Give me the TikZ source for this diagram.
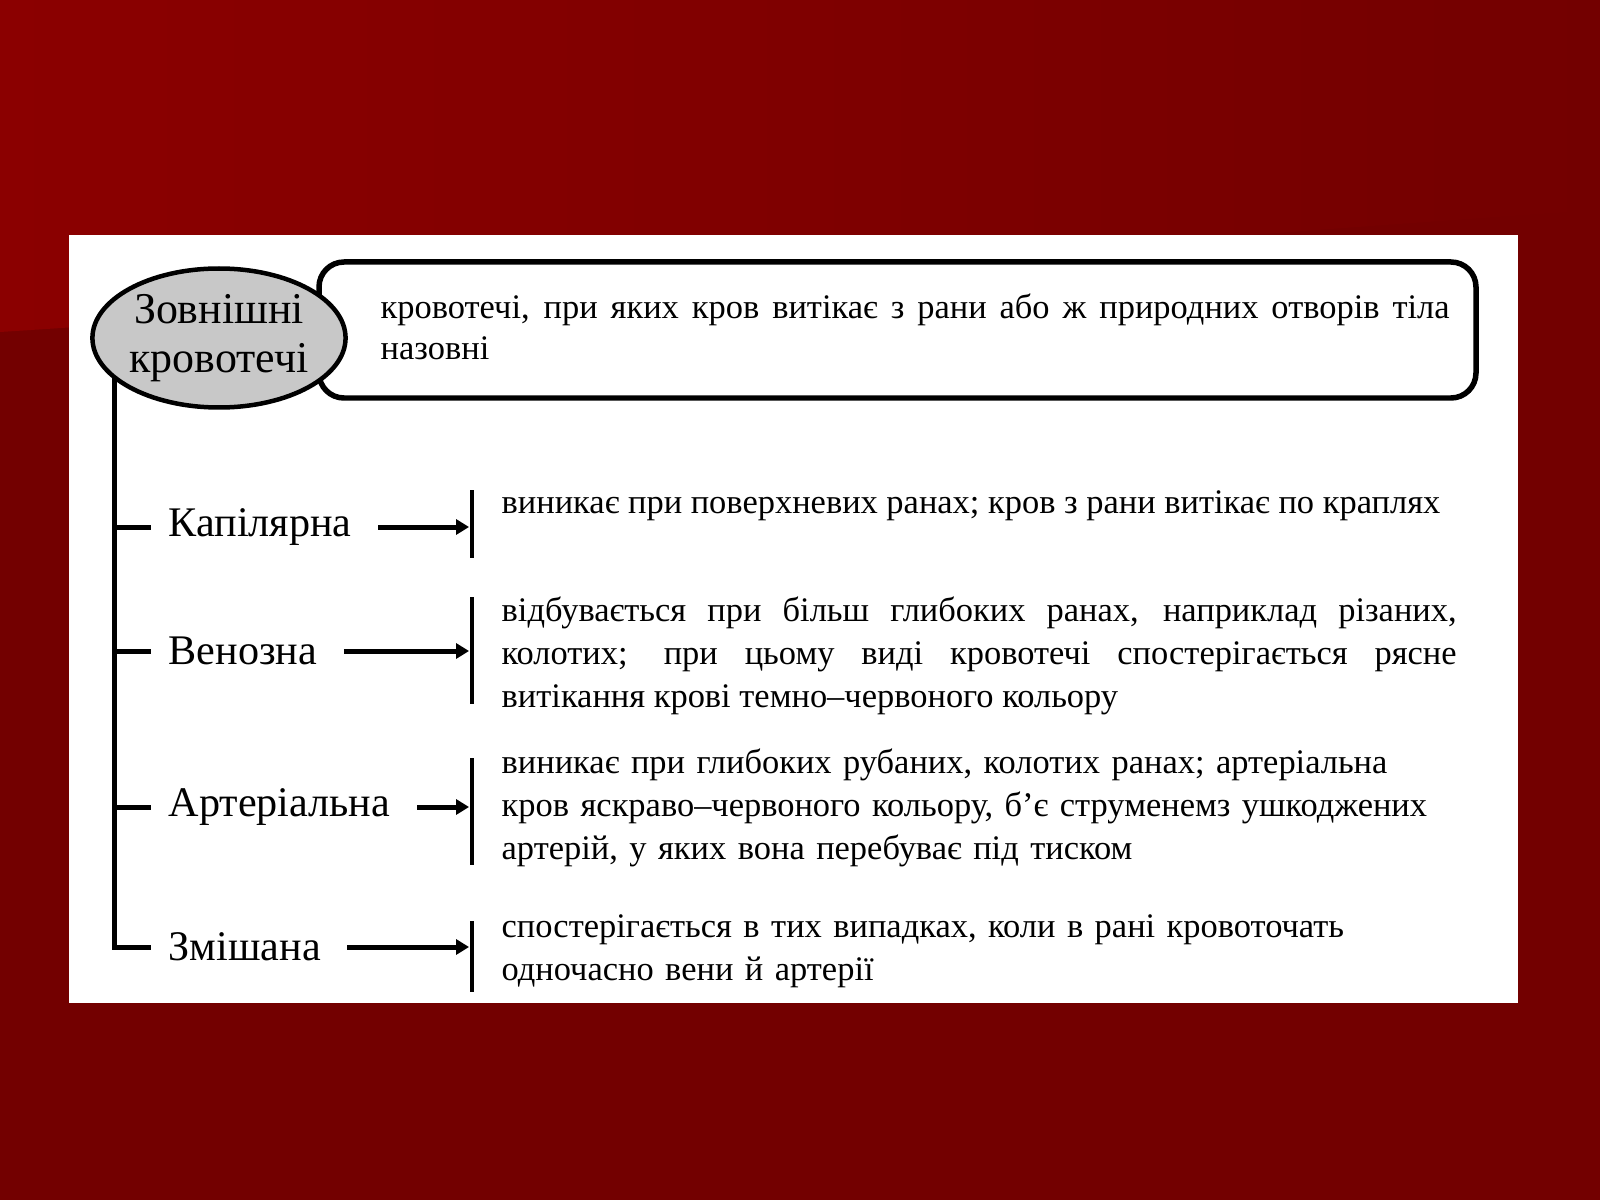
\documentclass[tikz,border=0pt]{standalone}
\usepackage{fontspec}
\setmainfont{Liberation Serif}
\usetikzlibrary{arrows.meta}
\usetikzlibrary{shapes.geometric}
\definecolor{bgdark}{RGB}{115,0,0}
\definecolor{bglight}{RGB}{139,0,0}
\definecolor{ovalgray}{RGB}{200,200,200}

\begin{document}
\begin{tikzpicture}[x=0.1mm, y=-0.1mm,
kind/.style={anchor=west, inner sep=0pt, font=\fontsize{12}{14}\selectfont},
note/.style={anchor=north west, inner sep=0pt, text width=95.5mm, align=justify, font=\fontsize{9.8}{12.2}\selectfont},
bar/.style={fill=black, inner sep=0pt, minimum width=0.45mm},
tie/.style={line width=0.5mm},
pointer/.style={line width=0.5mm, shorten <=2.6mm, -{Triangle[length=1.3mm,width=1.5mm]}}]
\par
\useasboundingbox (0,0) rectangle (1600,1200);
\fill[bgdark] (0,0) rectangle (1600,1200);
\shade[left color=bglight, right color=bgdark] (0,0) -- (0,332) .. controls (500,300) and (1000,250) .. (1600,210) -- (1600,0) -- cycle;
\fill[white] (69,235) rectangle (1518,1003);
\par
% definition
\draw[line width=0.55mm, rounded corners=2.5mm, fill=white] (319,262) rectangle (1476,398);
\node[note, text width=106.9mm, font=\fontsize{9.8}{11.7}\selectfont] (deftext) at (380,289)
{\strut кровотечі, при яких кров витікає з рани або ж природних отворів тіла\linebreak назовні};
\coordinate (root) at (114,360);
\draw[tie] (root) -- (114,947) -- (151,947);
\node[ellipse, draw, fill=ovalgray, line width=0.45mm, minimum width=25mm, minimum height=13.9mm,
inner sep=0pt, align=center, font=\fontsize{12.5}{14}\selectfont] (ext) at (219,338) {Зовнішні\\кровотечі};
\par
% kinds
\foreach \y/\nm/\txt in {527/kap/Капілярна, 651/ven/Венозна, 807/art/Артеріальна, 947/mix/Змішана}
{ \draw[tie] (114,\y) -- (151,\y);
  \node[kind] (\nm) at (168,\y) {\txt}; }
\node[bar, minimum height=6.8mm] (kapbar) at (472,524) {};
\node[bar, minimum height=10.7mm] (venbar) at (472,650) {};
\node[bar, minimum height=10.7mm] (artbar) at (472,811) {};
\node[bar, minimum height=7.1mm] (mixbar) at (472,956) {};
\foreach \nm in {kap, ven, art, mix}
  \draw[pointer] (\nm.east) -- (\nm.east -| \nm bar.west);
\par
% notes
\node[note] (kapnote) at (501,483)
{\strut виникає при поверхневих ранах; кров з рани витікає по краплях};
\node[note] (vennote) at (501,591)
{\strut відбувається при більш глибоких ранах, наприклад різаних,\linebreak
колотих; при цьому виді кровотечі спостерігається рясне\linebreak
витікання крові темно–червоного кольору};
\node[note, align=left] (artnote) at (501,743)
{\strut виникає при глибоких рубаних, колотих ранах; артеріальна\\
кров яскраво–червоного кольору, б’є струменемз ушкоджених\\
артерій, у яких вона перебуває під тиском};
\node[note, align=left] (mixnote) at (501,907)
{\strut спостерігається в тих випадках, коли в рані кровоточать\\
одночасно вени й артерії};
\end{tikzpicture}
\end{document}
